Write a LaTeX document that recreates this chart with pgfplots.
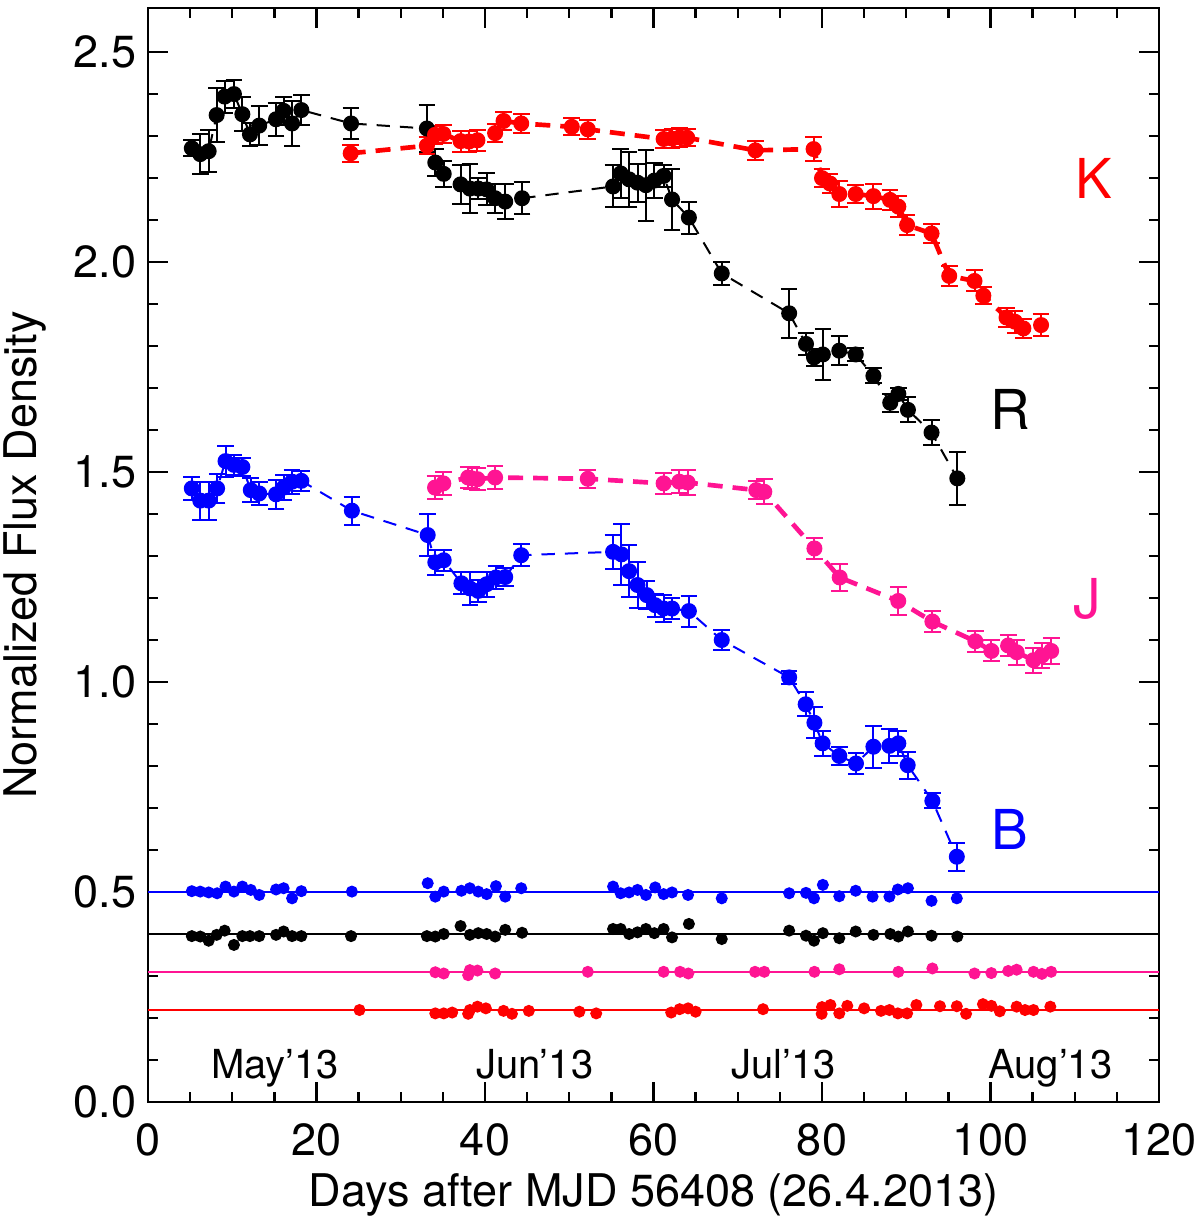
\documentclass[border=0pt]{standalone}
\usepackage{fontspec}
\setmainfont{TeX Gyre Heros}
\usepackage{pgfplots}
\pgfplotsset{compat=1.18}
\definecolor{jpink}{RGB}{255,20,147}
\definecolor{kred}{RGB}{255,0,0}
\definecolor{bblue}{RGB}{0,0,255}
\newcommand\ts{\fontsize{13.5}{16}\selectfont}
\newcommand\bs{\fontsize{16.5}{19}\selectfont}
\newcommand\ms{\fontsize{12}{14}\selectfont}
\pgfplotsset{
  ebar/.style={
    /pgfplots/error bars/y dir=both, /pgfplots/error bars/y explicit,
    /pgfplots/error bars/error bar style={line width=0.6pt,solid,#1},
    /pgfplots/error bars/error mark options={rotate=90, mark size=2.5pt, line width=0.6pt, solid, #1}
  }
}
\begin{document}
\begin{tikzpicture}
\begin{axis}[
  scale only axis, width=303.3pt, height=328.2pt,
  xmin=0, xmax=120, ymin=0, ymax=2.605,
  xtick={0,20,40,60,80,100,120}, minor x tick num=3,
  ytick={0,0.5,1,1.5,2,2.5}, minor y tick num=4,
  yticklabel style={/pgf/number format/.cd,fixed,fixed zerofill,precision=1},
  /pgf/number format/assume math mode=true,
  tick label style={font=\ts},
  xticklabel style={yshift=-3pt},
  major tick length=6pt, minor tick length=3pt,
  tick style={line width=0.7pt, black},
  axis line style={line width=0.75pt},
  xlabel={Days after MJD 56408 (26.4.2013)},
  ylabel={Normalized Flux Density},
  every axis x label/.style={at={(axis description cs:0.5,-0.085)},anchor=center,font=\ts},
  every axis y label/.style={at={(axis description cs:-0.1217,0.5)},rotate=90,anchor=center,font=\ts},
  clip=false,
]
% reference lines
\addplot[draw=bblue, line width=0.55pt] coordinates {(0,0.5) (120,0.5)};
\addplot[draw=black, line width=0.55pt] coordinates {(0,0.4) (120,0.4)};
\addplot[draw=jpink, line width=0.55pt] coordinates {(0,0.31) (120,0.31)};
\addplot[draw=kred, line width=0.55pt] coordinates {(0,0.22) (120,0.22)};

% R band
\addplot[black, line width=0.6pt, dash pattern=on 4pt off 3pt, mark=*, mark size=2.2pt, mark options={solid,fill=black,line width=0.4pt}, ebar=black]
table[x=x,y=y,y error=e]{
x y e
5.2 2.271 0.019
6.2 2.257 0.048
7.2 2.264 0.05
8.15 2.35 0.065
9.1 2.394 0.038
10.2 2.40 0.034
11.2 2.352 0.04
12.1 2.304 0.027
13.2 2.325 0.046
15.2 2.34 0.039
16.1 2.36 0.034
17.1 2.33 0.054
18.2 2.362 0.035
24.1 2.33 0.038
33.1 2.318 0.055
34.1 2.237 0.032
35.1 2.21 0.031
37.1 2.185 0.046
38.2 2.175 0.058
39.2 2.175 0.025
40.2 2.173 0.038
41.2 2.152 0.035
42.4 2.144 0.042
44.4 2.152 0.038
55.2 2.18 0.05
56.1 2.211 0.058
57.1 2.197 0.066
58.1 2.189 0.045
59.1 2.183 0.085
60.1 2.194 0.042
61.2 2.205 0.027
62.2 2.149 0.073
64.2 2.106 0.038
68.1 1.973 0.027
76.1 1.878 0.058
78.1 1.805 0.027
79.05 1.773 0.02
80.1 1.78 0.06
82.05 1.789 0.034
84.0 1.78 0.015
86.1 1.729 0.018
88.1 1.665 0.021
89.06 1.686 0.015
90.2 1.648 0.03
93.0 1.594 0.03
96.06 1.485 0.063
};

% K band
\addplot[kred, line width=1.4pt, dash pattern=on 4.5pt off 3pt, mark=*, mark size=2.2pt, mark options={solid,fill=kred,line width=0.4pt}, ebar=kred]
table[x=x,y=y,y error=e]{
x y e
24.06 2.259 0.02
33.1 2.277 0.02
34.07 2.303 0.022
35.05 2.305 0.022
37.1 2.288 0.025
38.1 2.287 0.025
39.1 2.29 0.025
41.2 2.307 0.022
42.2 2.336 0.022
44.3 2.33 0.022
50.3 2.322 0.02
52.2 2.316 0.022
61.2 2.293 0.022
62.2 2.294 0.022
63.1 2.297 0.022
64.0 2.296 0.02
72.1 2.266 0.022
79.0 2.269 0.028
80.0 2.2 0.022
80.95 2.187 0.022
82.05 2.162 0.03
84.0 2.162 0.022
86.1 2.157 0.03
88.07 2.148 0.023
89.06 2.132 0.025
90.1 2.088 0.024
93.0 2.068 0.022
95.1 1.967 0.024
98.1 1.955 0.025
99.15 1.92 0.02
101.9 1.868 0.022
102.9 1.858 0.026
103.9 1.842 0.022
106.0 1.85 0.027
};

% B band
\addplot[bblue, line width=0.6pt, dash pattern=on 4pt off 3pt, mark=*, mark size=2.2pt, mark options={solid,fill=bblue,line width=0.4pt}, ebar=bblue]
table[x=x,y=y,y error=e]{
x y e
5.2 1.461 0.027
6.2 1.432 0.045
7.2 1.432 0.045
8.2 1.461 0.035
9.2 1.526 0.037
10.2 1.517 0.024
11.2 1.512 0.021
12.2 1.457 0.028
13.2 1.449 0.027
15.2 1.447 0.034
16.1 1.463 0.03
17.1 1.477 0.029
18.2 1.479 0.023
24.2 1.408 0.033
33.2 1.35 0.049
34.1 1.285 0.029
35.1 1.29 0.025
37.2 1.235 0.026
38.2 1.223 0.04
39.2 1.217 0.027
40.2 1.233 0.03
41.3 1.249 0.028
42.4 1.25 0.021
44.3 1.302 0.026
55.2 1.31 0.04
56.2 1.304 0.073
57.1 1.264 0.062
58.1 1.231 0.055
59.2 1.207 0.034
60.2 1.183 0.027
61.2 1.175 0.033
62.2 1.175 0.025
64.2 1.169 0.037
68.1 1.1 0.023
76.1 1.011 0.016
78.06 0.947 0.029
79.1 0.903 0.037
80.07 0.854 0.03
82.05 0.824 0.022
84.03 0.806 0.026
86.1 0.846 0.05
88.0 0.848 0.04
89.06 0.854 0.029
90.17 0.802 0.032
93.1 0.717 0.018
96.0 0.584 0.033
};

% J band
\addplot[jpink, line width=1.4pt, dash pattern=on 4.5pt off 3pt, mark=*, mark size=2.2pt, mark options={solid,fill=jpink,line width=0.4pt}, ebar=jpink]
table[x=x,y=y,y error=e]{
x y e
34.07 1.463 0.027
35.05 1.473 0.027
38.0 1.487 0.026
38.4 1.485 0.026
39.1 1.483 0.026
41.2 1.487 0.027
52.2 1.484 0.022
61.2 1.473 0.025
63.06 1.477 0.028
64.06 1.475 0.03
72.2 1.457 0.022
73.15 1.453 0.03
79.1 1.318 0.025
82.1 1.249 0.033
89.05 1.193 0.033
93.1 1.144 0.026
98.2 1.097 0.025
100.1 1.074 0.025
102.1 1.087 0.025
103.1 1.071 0.03
105.1 1.052 0.03
106.1 1.063 0.03
107.2 1.074 0.03
};

% residual points
\addplot[only marks, mark=*, mark size=1.6pt, bblue] coordinates {
(5.2,.502) (6.2,.501) (7.2,.499) (8.2,.497) (9.2,.513) (10.2,.501) (11.2,.513) (12.2,.505) (13.2,.493) (15.2,.506) (16.1,.509) (17.1,.485) (18.2,.502) (24.2,.501) (33.2,.521) (34.1,.489) (35.1,.501) (37.2,.503) (38.2,.509) (39.2,.501) (40.2,.495) (41.3,.514) (42.4,.489) (44.3,.509) (55.2,.513) (56.1,.497) (57.1,.499) (58.1,.505) (59.1,.493) (60.2,.511) (61.2,.495) (62.2,.499) (64.1,.493) (68.1,.485) (76.1,.497) (78.1,.498) (79.05,.485) (80.1,.517) (82.05,.49) (84.0,.503) (86.0,.489) (88.0,.489) (89.0,.506) (90.2,.509) (93.0,.479) (96.0,.485)};
\addplot[only marks, mark=*, mark size=1.6pt, black] coordinates {
(5.2,.395) (6.2,.394) (7.2,.384) (8.15,.398) (9.1,.408) (10.2,.374) (11.2,.395) (12.1,.395) (13.2,.395) (15.2,.398) (16.1,.406) (17.1,.395) (18.2,.395) (24.1,.395) (33.1,.395) (34.1,.394) (35.1,.4) (37.1,.419) (38.2,.398) (39.2,.402) (40.2,.4) (41.2,.394) (42.4,.41) (44.4,.403) (55.2,.412) (56.1,.412) (57.1,.4) (58.1,.404) (59.1,.412) (60.1,.402) (61.2,.412) (62.2,.392) (64.2,.424) (68.1,.388) (76.1,.408) (78.1,.396) (79.05,.384) (80.1,.402) (82.05,.39) (84.0,.406) (86.1,.398) (88.1,.4) (89.06,.394) (90.2,.406) (93.0,.396) (96.06,.394)};
\addplot[only marks, mark=*, mark size=1.6pt, jpink] coordinates {
(34.1,.309) (35.1,.306) (38.0,.302) (38.2,.314) (39.1,.313) (41.2,.306) (52.2,.31) (61.2,.31) (63.15,.31) (64.13,.306) (72.05,.31) (73.15,.31) (79.1,.31) (82.05,.316) (89.06,.31) (93.1,.318) (98.1,.306) (100.1,.307) (102.1,.312) (103.1,.315) (105.1,.31) (106.1,.305) (107.2,.31)};
\addplot[only marks, mark=*, mark size=1.6pt, kred] coordinates {
(25.1,.219) (34.1,.211) (35.1,.211) (36.1,.213) (38.0,.21) (38.2,.219) (39.1,.227) (40.1,.223) (42.2,.217) (43.2,.21) (45.2,.217) (51.2,.215) (53.2,.211) (62.1,.213) (63.1,.221) (64.1,.223) (65.0,.215) (73.0,.221) (79.96,.21) (80.0,.226) (81.0,.231) (82.05,.211) (83.0,.229) (85.0,.223) (87.0,.217) (88.0,.219) (89.0,.211) (90.1,.211) (91.2,.231) (94.0,.228) (96.0,.228) (97.1,.21) (99.1,.233) (100.1,.229) (101.1,.216) (103.1,.227) (104.1,.219) (105.1,.219) (107.1,.227)};

% band labels
\node[anchor=base, text=kred, font=\bs] at (axis cs:112.3,2.152) {K};
\node[anchor=base, text=black, font=\bs] at (axis cs:102.4,1.602) {R};
\node[anchor=base, text=jpink, font=\bs] at (axis cs:111.5,1.152) {J};
\node[anchor=base, text=bblue, font=\bs] at (axis cs:102.3,0.601) {B};
% month labels
\node[anchor=base, font=\ms] at (axis cs:15.1,0.057) {May’13};
\node[anchor=base, font=\ms] at (axis cs:45.9,0.057) {Jun’13};
\node[anchor=base, font=\ms] at (axis cs:75.4,0.057) {Jul’13};
\node[anchor=base, font=\ms] at (axis cs:107.1,0.057) {Aug’13};
\end{axis}
\pgfresetboundingbox
\path[use as bounding box] ([xshift=-44.4pt,yshift=-35.4pt]current axis.south west) rectangle ([xshift=12.3pt,yshift=2.4pt]current axis.north east);
\end{tikzpicture}
\end{document}
